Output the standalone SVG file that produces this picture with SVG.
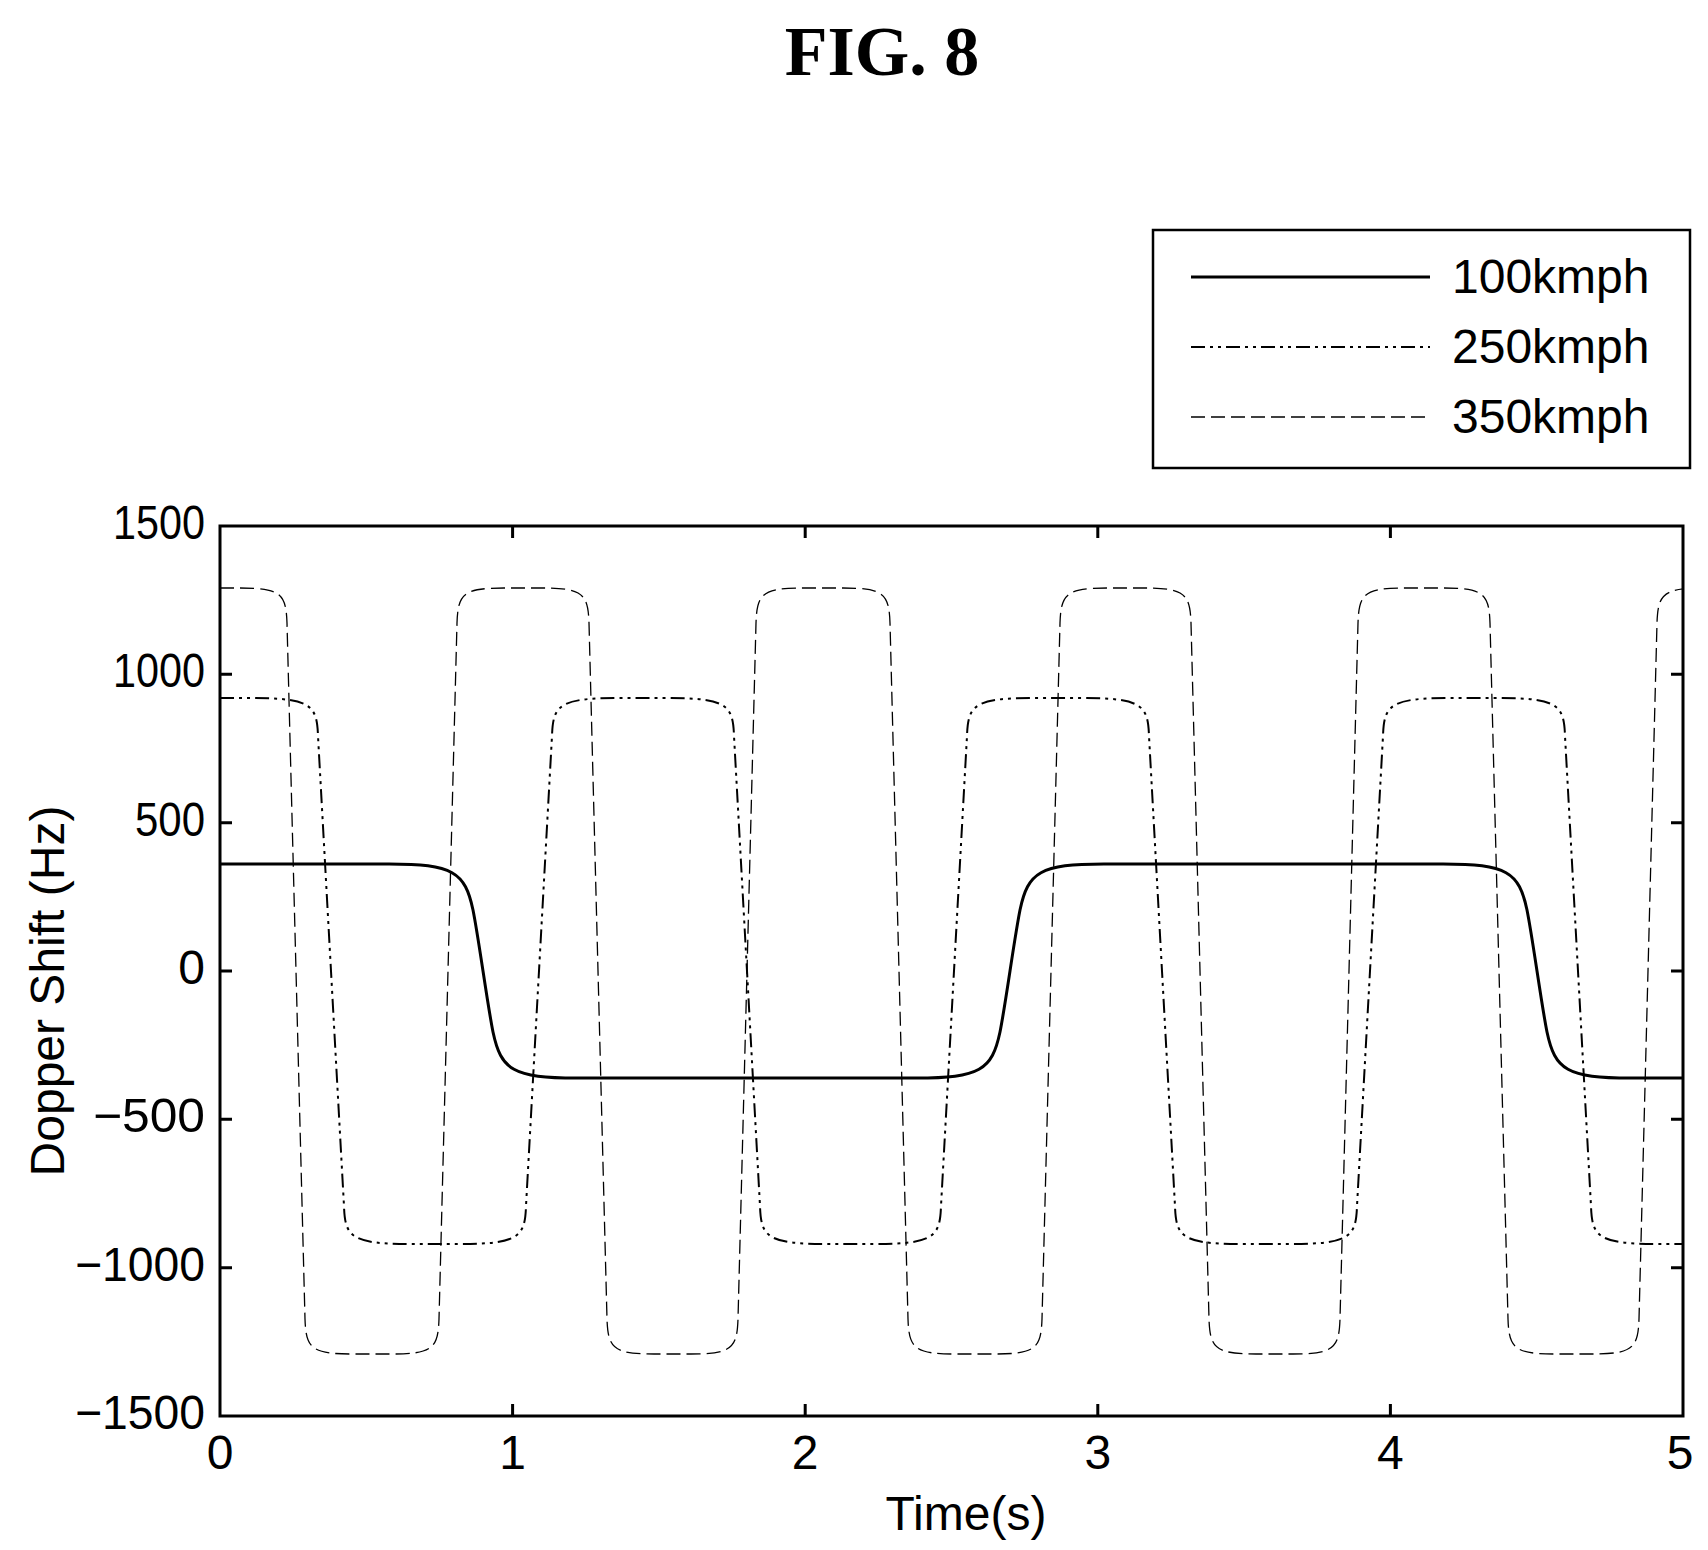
<svg xmlns="http://www.w3.org/2000/svg" width="1708" height="1550" viewBox="0 0 1708 1550">
<style>
text{font-family:"Liberation Sans",Arial,sans-serif;font-size:48px;fill:#000}
.t{font-family:"Liberation Serif",serif;font-size:70px;font-weight:bold}
.c{fill:none;stroke:#000}
.s1{stroke-width:3}
.s2{stroke-width:2;stroke-dasharray:14 5 3 5 3 5}
.s3{stroke-width:1.3;stroke-dasharray:14 6}
</style>
<defs><clipPath id="cp"><rect x="220" y="526" width="1463" height="890"/></clipPath></defs>
<rect width="1708" height="1550" fill="#fff"/>
<text class="t" x="882" y="75" text-anchor="middle">FIG. 8</text>
<g id="axes">
<rect x="220" y="526" width="1463" height="890" fill="none" stroke="#000" stroke-width="3"/>
<path d="M512.6,1416v-12M805.2,1416v-12M1097.8,1416v-12M1390.4,1416v-12M512.6,526v12M805.2,526v12M1097.8,526v12M1390.4,526v12M220,674.3h12M220,822.7h12M220,971h12M220,1119.3h12M220,1267.7h12M1683,674.3h-12M1683,822.7h-12M1683,971h-12M1683,1119.3h-12M1683,1267.7h-12" stroke="#000" stroke-width="3"/>
<g text-anchor="end">
<text x="205" y="539" textLength="92" lengthAdjust="spacingAndGlyphs">1500</text>
<text x="205" y="687" textLength="92" lengthAdjust="spacingAndGlyphs">1000</text>
<text x="205" y="836" textLength="70" lengthAdjust="spacingAndGlyphs">500</text>
<text x="205" y="984">0</text>
<text x="205" y="1132" textLength="112" lengthAdjust="spacingAndGlyphs">−500</text>
<text x="205" y="1281" textLength="130" lengthAdjust="spacingAndGlyphs">−1000</text>
<text x="205" y="1429" textLength="130" lengthAdjust="spacingAndGlyphs">−1500</text>
</g>
<g text-anchor="middle">
<text x="220" y="1469">0</text><text x="512.6" y="1469">1</text><text x="805.2" y="1469">2</text><text x="1097.8" y="1469">3</text><text x="1390.4" y="1469">4</text><text x="1680" y="1469">5</text>
<text x="966" y="1530">Time(s)</text>
<text transform="translate(64,991) rotate(-90)">Dopper Shift (Hz)</text>
</g>
</g>
<g id="curves" clip-path="url(#cp)">
<path class="c s1" d="M220,864 L389,864 C453,864 465,872 473,910 C479,940 487,1002 493,1032 C501,1070 513,1078 577,1078 L916,1078 C980,1078 992,1070 1000,1032 C1006,1002 1014,940 1020,910 C1028,872 1040,864 1104,864 L1443,864 C1507,864 1519,872 1527,910 C1533,940 1541,1002 1547,1032 C1555,1070 1567,1078 1631,1078 L1683,1078"/>
<path class="c s2" d="M220,698 L251,698 C311,698 317,705 318,736 L344,1206 C345,1237 351,1244 411,1244 L459,1244 C519,1244 525,1237 526,1206 L552,736 C553,705 559,698 619,698 L667,698 C727,698 733,705 734,736 L760,1206 C761,1237 767,1244 827,1244 L874,1244 C934,1244 940,1237 941,1206 L967,736 C968,705 974,698 1034,698 L1082,698 C1142,698 1148,705 1149,736 L1175,1206 C1176,1237 1182,1244 1242,1244 L1290,1244 C1350,1244 1356,1237 1357,1206 L1383,736 C1384,705 1390,698 1450,698 L1498,698 C1558,698 1564,705 1565,736 L1591,1206 C1592,1237 1598,1244 1658,1244 L1683,1244"/>
<path class="c s3" d="M220,588 L240,588 C281,588 286,594 287,623 L305,1319 C306,1348 311,1354 352,1354 L392,1354 C433,1354 438,1348 439,1319 L457,623 C458,594 463,588 504,588 L542,588 C583,588 588,594 589,623 L607,1319 C608,1348 613,1354 654,1354 L691,1354 C732,1354 737,1348 738,1319 L756,623 C757,594 762,588 803,588 L843,588 C884,588 889,594 890,623 L908,1319 C909,1348 914,1354 955,1354 L995,1354 C1036,1354 1041,1348 1042,1319 L1060,623 C1061,594 1066,588 1107,588 L1144,588 C1185,588 1190,594 1191,623 L1209,1319 C1210,1348 1215,1354 1256,1354 L1293,1354 C1334,1354 1339,1348 1340,1319 L1358,623 C1359,594 1364,588 1405,588 L1443,588 C1484,588 1489,594 1490,623 L1508,1319 C1509,1348 1514,1354 1555,1354 L1592,1354 C1633,1354 1638,1348 1639,1319 L1657,623 C1658,594 1663,588 1704,588"/>
</g>
<g id="legend">
<rect x="1153" y="230" width="537" height="238" fill="#fff" stroke="#000" stroke-width="2.5"/>
<path class="c s1" d="M1191,277H1430"/>
<path class="c s2" d="M1191,347H1430"/>
<path class="c s3" d="M1191,417H1430"/>
<text x="1452" y="293">100kmph</text>
<text x="1452" y="363">250kmph</text>
<text x="1452" y="433">350kmph</text>
</g>
</svg>
